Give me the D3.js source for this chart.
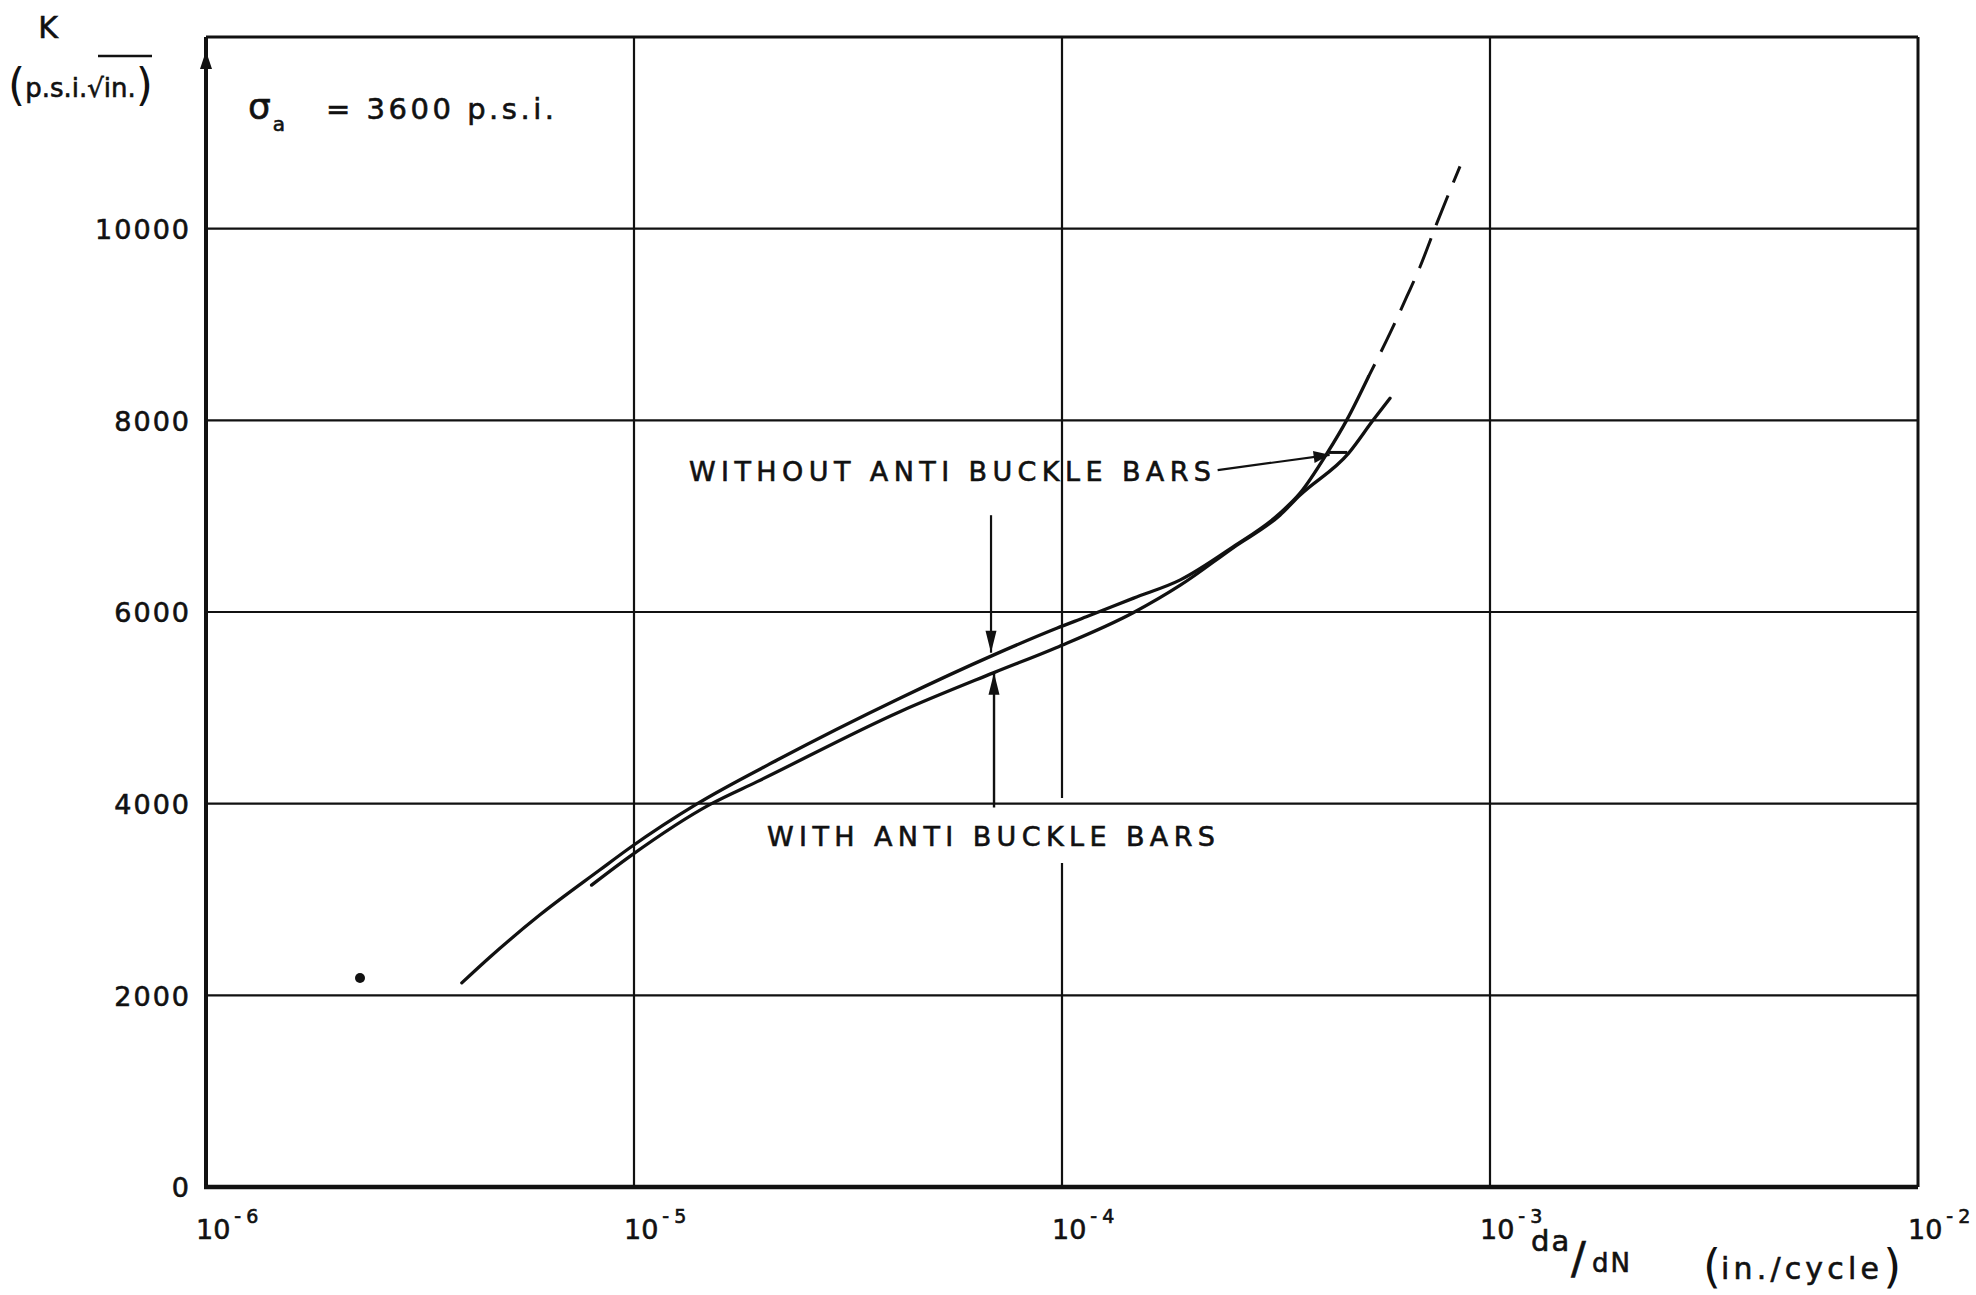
<!DOCTYPE html>
<html><head><meta charset="utf-8">
<script src="https://cdn.jsdelivr.net/npm/d3@7"></script>
<style>
html,body{margin:0;padding:0;background:#fff;}
svg{display:block;}
text{font-family:"DejaVu Sans",sans-serif;fill:#111;stroke:#111;stroke-width:0.6px;}
</style>
</head><body>
<svg id="chart" width="1976" height="1295"></svg>
<script>
// ---- data (da/dN in in./cycle, K in p.s.i.√in.) ----
const withoutBarsDadN = [3.96e-6, 4.61e-6, 6.03e-6, 8.33e-6, 9.82e-6, 1.40e-5, 2.16e-5, 4.18e-5, 6.91e-5, 9.72e-5, 1.14e-4, 1.47e-4, 1.89e-4, 2.51e-4, 3.23e-4, 3.60e-4, 4.16e-4, 4.63e-4, 5.20e-4];
const withoutBarsK    = [2130, 2400, 2840, 3310, 3545, 3995, 4455, 5100, 5550, 5830, 5950, 6145, 6335, 6680, 7030, 7240, 7655, 8005, 8455];
const withoutBarsExtrapDadN = [5.20e-4, 5.84e-4, 6.39e-4, 6.86e-4, 7.51e-4, 8.51e-4];
const withoutBarsExtrapK    = [8455, 8910, 9290, 9600, 10055, 10650];
const withBarsDadN = [7.96e-6, 9.82e-6, 1.51e-5, 1.94e-5, 4.18e-5, 6.91e-5, 9.72e-5, 1.47e-4, 1.89e-4, 2.51e-4, 3.23e-4, 3.60e-4, 4.67e-4, 5.34e-4, 5.84e-4];
const withBarsK    = [3150, 3455, 3995, 4230, 4960, 5365, 5630, 5995, 6280, 6670, 7010, 7220, 7655, 8005, 8230];
const isolatedPointDadN = [2.29e-6];
const isolatedPointK    = [2180];

const xTickValues    = [1e-6, 1e-5, 1e-4, 1e-3, 1e-2];
const xTickExponents = ["-6", "-5", "-4", "-3", "-2"];
const yTickValues    = [0, 2000, 4000, 6000, 8000, 10000];
const yTickLabels    = ["0", "2000", "4000", "6000", "8000", "10000"];

// annotation anchors (data coordinates)
const arrowDadN = 6.9e-5;
const downArrowK = [7010, 5575];
const upArrowK   = [3960, 5365];
const leaderDadN = [2.31e-4, 4.22e-4];
const leaderK    = [7480, 7640];
const leaderBarDadN = [4.20e-4, 4.64e-4];
const leaderBarK    = 7665;
const gap1e4K = [3380, 4060];   // break of the 10^-4 grid line behind the lower label

// ---- scales ----
const svg = d3.select("#chart");
const x = d3.scaleLog().domain([1e-6, 1e-2]).range([206, 1918]);
const y = d3.scaleLinear().domain([0, 12000]).range([1187, 37]);
const X0 = x.range()[0], X1 = x.range()[1], Y0 = y.range()[0], Y1 = y.range()[1];

// ---- grid ----
const grid = svg.append("g").attr("stroke", "#111").attr("stroke-width", 2.2).attr("fill", "none");
xTickValues.slice(1, -1).forEach(v => {
  if (v === 1e-4) {
    grid.append("line").attr("x1", x(v)).attr("x2", x(v)).attr("y1", Y0).attr("y2", y(gap1e4K[0]));
    grid.append("line").attr("x1", x(v)).attr("x2", x(v)).attr("y1", y(gap1e4K[1])).attr("y2", Y1);
  } else {
    grid.append("line").attr("x1", x(v)).attr("x2", x(v)).attr("y1", Y0).attr("y2", Y1);
  }
});
yTickValues.slice(1).forEach(v => {
  grid.append("line").attr("x1", X0).attr("x2", X1).attr("y1", y(v)).attr("y2", y(v));
});
// frame
svg.append("line").attr("x1", X0).attr("x2", X1).attr("y1", Y1).attr("y2", Y1).attr("stroke", "#111").attr("stroke-width", 3);
svg.append("line").attr("x1", X1).attr("x2", X1).attr("y1", Y1).attr("y2", Y0).attr("stroke", "#111").attr("stroke-width", 3);
svg.append("line").attr("x1", X0).attr("x2", X0).attr("y1", Y0 + 2).attr("y2", Y1).attr("stroke", "#111").attr("stroke-width", 4);
svg.append("line").attr("x1", X0 - 2).attr("x2", X1).attr("y1", Y0).attr("y2", Y0).attr("stroke", "#111").attr("stroke-width", 4.5);
// arrow head on y axis
svg.append("path").attr("d", `M${X0},${Y1 + 14} L${X0 - 6},${Y1 + 32} L${X0 + 6},${Y1 + 32} Z`).attr("fill", "#111");

// ---- y tick labels ----
const yAxis = d3.axisLeft(y).tickValues(yTickValues).tickSize(0).tickPadding(15)
  .tickFormat((d, i) => yTickLabels[i]);
const gy = svg.append("g").attr("transform", `translate(${X0},0)`).call(yAxis);
gy.select(".domain").remove();
gy.selectAll("text").attr("font-family", "DejaVu Sans, sans-serif").attr("font-size", 27)
  .attr("letter-spacing", 2).attr("fill", "#111").attr("stroke", "#111").attr("stroke-width", 0.6).attr("dy", "0.36em");

// ---- x tick labels ----
const gx = svg.append("g");
xTickValues.forEach((v, i) => {
  const t = gx.append("text").attr("x", x(v) - 10).attr("y", Y0 + 52).attr("font-size", 27);
  t.append("tspan").text("10");
  t.append("tspan").attr("font-size", 19).attr("dy", -16).attr("dx", 4).attr("letter-spacing", 5).text(xTickExponents[i]);
});

// ---- curves ----
const line = d3.line().x(d => x(d[0])).y(d => y(d[1])).curve(d3.curveMonotoneX);
const zip = (a, b) => a.map((v, i) => [v, b[i]]);
svg.append("path").datum(zip(withBarsDadN, withBarsK)).attr("d", line)
  .attr("fill", "none").attr("stroke", "#111").attr("stroke-width", 3.3).attr("stroke-linecap", "round");
svg.append("path").datum(zip(withoutBarsDadN, withoutBarsK)).attr("d", line)
  .attr("fill", "none").attr("stroke", "#111").attr("stroke-width", 3.3).attr("stroke-linecap", "round");
svg.append("path").datum(zip(withoutBarsExtrapDadN, withoutBarsExtrapK)).attr("d", line)
  .attr("fill", "none").attr("stroke", "#111").attr("stroke-width", 3).attr("stroke-dasharray", "14,14,32,14,32,14,32,14,32,14,40");
svg.selectAll("circle.pt").data(zip(isolatedPointDadN, isolatedPointK)).join("circle")
  .attr("class", "pt").attr("cx", d => x(d[0])).attr("cy", d => y(d[1])).attr("r", 5).attr("fill", "#111");

// ---- annotations ----
const defs = svg.append("defs");
defs.append("marker").attr("id", "arr").attr("viewBox", "-24 -7 26 14").attr("refX", 0).attr("refY", 0)
  .attr("markerWidth", 26).attr("markerHeight", 14).attr("markerUnits", "userSpaceOnUse").attr("orient", "auto")
  .append("path").attr("d", "M0,0 L-22,-5.5 L-22,5.5 Z").attr("fill", "#111");
defs.append("marker").attr("id", "arr2").attr("viewBox", "-18 -7 20 14").attr("refX", 0).attr("refY", 0)
  .attr("markerWidth", 20).attr("markerHeight", 14).attr("markerUnits", "userSpaceOnUse").attr("orient", "auto")
  .append("path").attr("d", "M0,0 L-16,-6 L-16,6 Z").attr("fill", "#111");

svg.append("line").attr("x1", x(arrowDadN) - 2).attr("x2", x(arrowDadN) - 2)
  .attr("y1", y(downArrowK[0])).attr("y2", y(downArrowK[1]))
  .attr("stroke", "#111").attr("stroke-width", 2.2).attr("marker-end", "url(#arr)");
svg.append("line").attr("x1", x(arrowDadN) + 1).attr("x2", x(arrowDadN) + 1)
  .attr("y1", y(upArrowK[0])).attr("y2", y(upArrowK[1]))
  .attr("stroke", "#111").attr("stroke-width", 2.4).attr("marker-end", "url(#arr)");
svg.append("line").attr("x1", x(leaderDadN[0])).attr("x2", x(leaderDadN[1]))
  .attr("y1", y(leaderK[0])).attr("y2", y(leaderK[1]))
  .attr("stroke", "#111").attr("stroke-width", 2.2).attr("marker-end", "url(#arr2)");
svg.append("line").attr("x1", x(leaderBarDadN[0])).attr("x2", x(leaderBarDadN[1]))
  .attr("y1", y(leaderBarK)).attr("y2", y(leaderBarK))
  .attr("stroke", "#111").attr("stroke-width", 3);

svg.append("text").attr("x", 689).attr("y", 481).attr("font-size", 27)
  .attr("textLength", 522).attr("lengthAdjust", "spacing").text("WITHOUT ANTI BUCKLE BARS");
svg.append("text").attr("x", 767).attr("y", 846).attr("font-size", 27)
  .attr("textLength", 448).attr("lengthAdjust", "spacing").text("WITH ANTI BUCKLE BARS");

// ---- titles ----
svg.append("text").attr("x", 48).attr("y", 38).attr("text-anchor", "middle").attr("font-size", 30).text("K");
const kt = svg.append("text").attr("x", 8).attr("y", 100);
kt.append("tspan").attr("font-size", 44).attr("stroke-width", 0).text("(");
kt.append("tspan").attr("font-size", 26).attr("dy", -3).text("p.s.i.√in.");
kt.append("tspan").attr("font-size", 44).attr("dy", 3).attr("stroke-width", 0).text(")");
svg.append("line").attr("x1", 98).attr("x2", 152).attr("y1", 56).attr("y2", 56).attr("stroke", "#111").attr("stroke-width", 2.4);

const st = svg.append("text").attr("x", 248).attr("y", 119);
st.append("tspan").attr("font-size", 36).text("σ");
st.append("tspan").attr("font-size", 20).attr("dy", 12).attr("dx", 2).text("a");
st.append("tspan").attr("x", 326).attr("dy", -12).attr("font-size", 29)
  .attr("textLength", 228).attr("lengthAdjust", "spacing").text("= 3600  p.s.i.");

const xt = svg.append("g");
xt.append("text").attr("x", 1531).attr("y", 1251).attr("font-size", 29).attr("letter-spacing", 2).text("da");
xt.append("text").attr("x", 1571).attr("y", 1274).attr("font-size", 44).attr("stroke-width", 0).text("/");
xt.append("text").attr("x", 1592).attr("y", 1272).attr("font-size", 26).attr("letter-spacing", 2).text("dN");
const it = xt.append("text").attr("x", 1703).attr("y", 1282);
it.append("tspan").attr("font-size", 46).attr("stroke-width", 0).text("(");
it.append("tspan").attr("font-size", 30).attr("dy", -3).attr("textLength", 158).attr("lengthAdjust", "spacing").text("in./cycle");
it.append("tspan").attr("font-size", 46).attr("dy", 3).attr("stroke-width", 0).text(")");
</script>
</body></html>
